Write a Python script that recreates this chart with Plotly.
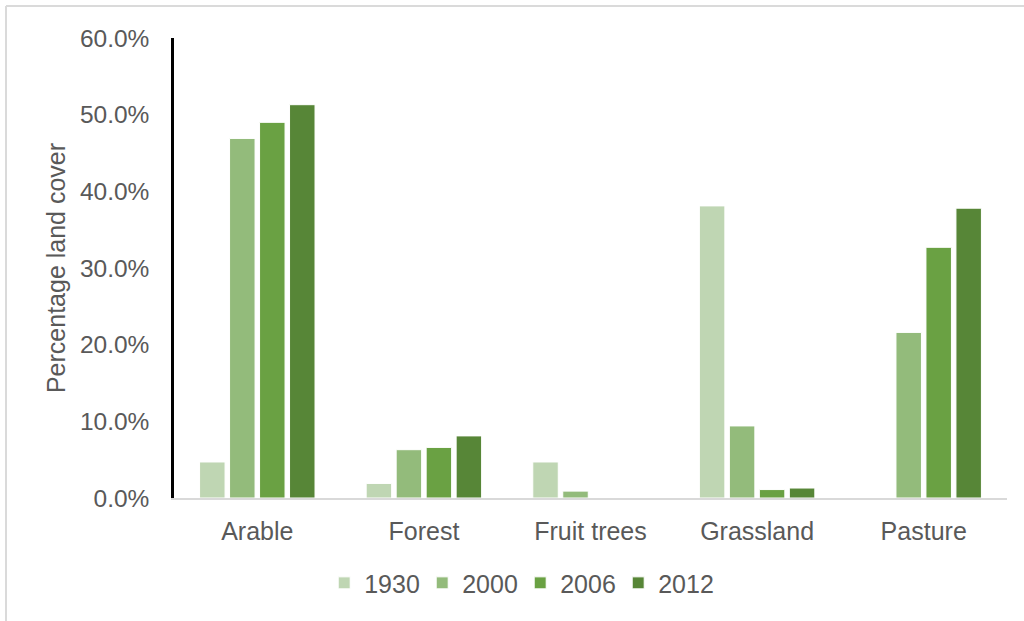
import plotly.graph_objects as go

categories = ["Arable", "Forest", "Fruit trees", "Grassland", "Pasture"]
years = ["1930", "2000", "2006", "2012"]
v1930 = [0.047, 0.019, 0.047, 0.381, 0.0]
v2000 = [0.469, 0.063, 0.009, 0.094, 0.216]
v2006 = [0.490, 0.066, 0.0, 0.011, 0.327]
v2012 = [0.513, 0.081, 0.0, 0.013, 0.378]
series = [v1930, v2000, v2006, v2012]
colors = ["#BFD6B3", "#93BB7B", "#6AA143", "#578637"]
tickvals_y = [0, 0.1, 0.2, 0.3, 0.4, 0.5, 0.6]

FONT = "Liberation Sans, Arial, sans-serif"
GREY = "#595959"

fig = go.Figure()
for name, vals, col in zip(years, series, colors):
    fig.add_trace(go.Bar(
        x=categories, y=vals, name=name,
        marker=dict(color=col, line=dict(color="white", width=1)),
    ))

fig.update_layout(
    width=1024, height=621,
    margin=dict(l=174, r=17, t=38, b=123, autoexpand=False),
    paper_bgcolor="white", plot_bgcolor="white",
    barmode="group", bargap=0.28, bargroupgap=0.15,
    font=dict(family=FONT, size=25, color=GREY),
    showlegend=True,
    legend=dict(
        orientation="h", xref="container", x=0.508, xanchor="center",
        y=-0.185, yanchor="middle",
        font=dict(family=FONT, size=25, color=GREY),
        entrywidth=53, entrywidthmode="pixels", itemwidth=30,
        bgcolor="rgba(0,0,0,0)",
    ),
    xaxis=dict(
        showline=True, linecolor="#D9D9D9", linewidth=1.5,
        showgrid=False, ticks="", ticklabelstandoff=10,
        tickfont=dict(family=FONT, size=25, color=GREY),
        fixedrange=True,
    ),
    yaxis=dict(
        range=[0, 0.6], tickvals=tickvals_y, tickformat=".1%",
        showline=True, linecolor="black", linewidth=2.5,
        showgrid=False, zeroline=False, ticks="", ticklabelstandoff=17,
        tickfont=dict(family=FONT, size=24.5, color=GREY),
        title=dict(text="Percentage land cover", standoff=8,
                   font=dict(family=FONT, size=25, color=GREY)),
        fixedrange=True,
    ),
    shapes=[
        dict(type="line", xref="paper", yref="paper",
             x0=(6 - 174) / 833, x1=1.1, y0=(621 - 6 - 123) / 460, y1=(621 - 6 - 123) / 460,
             line=dict(color="#DADADA", width=2)),
        dict(type="line", xref="paper", yref="paper",
             x0=(6 - 174) / 833, x1=(6 - 174) / 833, y0=-1, y1=(621 - 6 - 123) / 460,
             line=dict(color="#DADADA", width=2)),
    ],
)

fig.write_html("out.html", config=dict(displayModeBar=False))
